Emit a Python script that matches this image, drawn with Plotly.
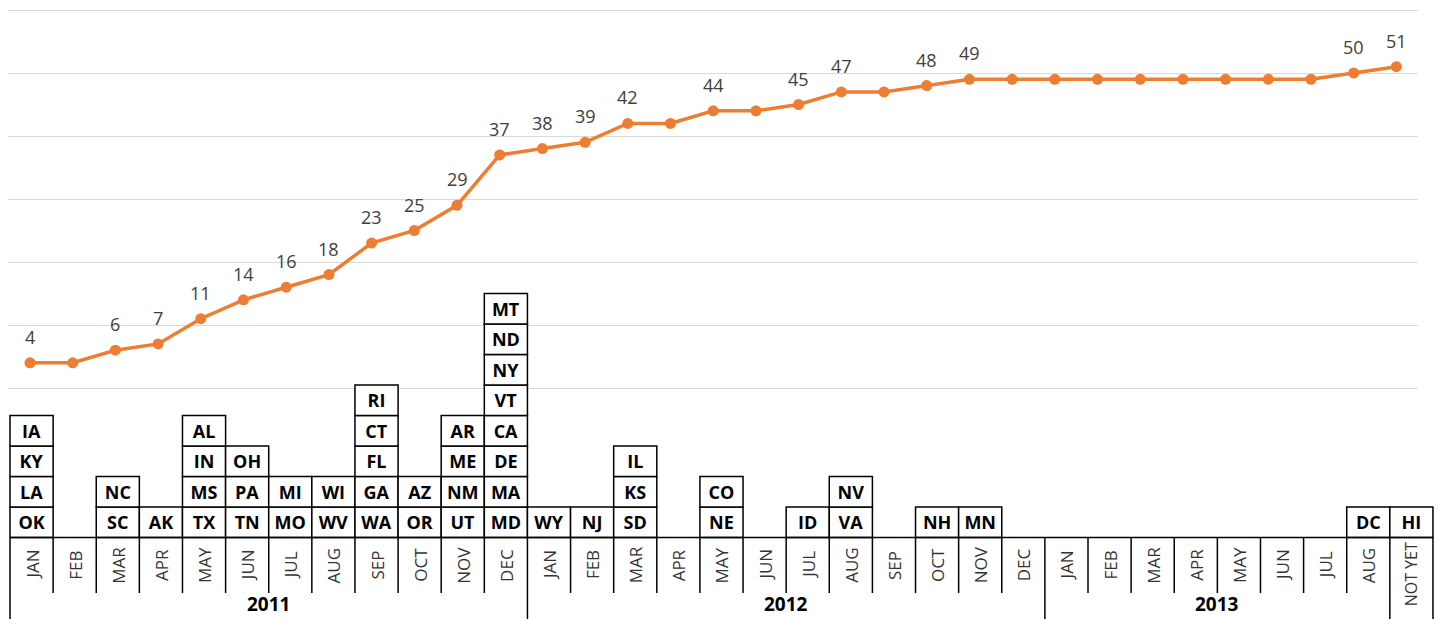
import plotly.graph_objects as go

# ---------------- data ----------------
month_labels = ["JAN", "FEB", "MAR", "APR", "MAY", "JUN", "JUL", "AUG", "SEP", "OCT", "NOV", "DEC",
                "JAN", "FEB", "MAR", "APR", "MAY", "JUN", "JUL", "AUG", "SEP", "OCT", "NOV", "DEC",
                "JAN", "FEB", "MAR", "APR", "MAY", "JUN", "JUL", "AUG",
                "NOT YET"]
year_labels = ["2011", "2012", "2013"]
year_first_col = [0, 12, 24]
year_last_col = [11, 23, 31]

cumulative_states = [4, 4, 6, 7, 11, 14, 16, 18, 23, 25, 29, 37,
                     38, 39, 42, 42, 44, 44, 45, 47, 47, 48, 49, 49,
                     49, 49, 49, 49, 49, 49, 49, 50,
                     51]

# states per column, listed bottom to top
states_by_month = [
    ["OK", "LA", "KY", "IA"], [], ["SC", "NC"], ["AK"], ["TX", "MS", "IN", "AL"],
    ["TN", "PA", "OH"], ["MO", "MI"], ["WV", "WI"], ["WA", "GA", "FL", "CT", "RI"],
    ["OR", "AZ"], ["UT", "NM", "ME", "AR"], ["MD", "MA", "DE", "CA", "VT", "NY", "ND", "MT"],
    ["WY"], ["NJ"], ["SD", "KS", "IL"], [], ["NE", "CO"], [], ["ID"], ["VA", "NV"], [],
    ["NH"], ["MN"], [],
    [], [], [], [], [], [], [], ["DC"],
    ["HI"],
]

# ---------------- build ----------------
n = len(month_labels)
cols = list(range(n))

bx, bbase, bh, btext = [], [], [], []
for i, sts in enumerate(states_by_month):
    for k, s in enumerate(sts):
        bx.append(i)
        bbase.append(k)
        bh.append(1)
        btext.append(s)

ORANGE = "#ED7D31"
W, H = 1441, 619
FONT = "Open Sans"

fig = go.Figure()

fig.add_trace(go.Scatter(
    x=cols, y=cumulative_states, mode="lines+markers",
    line=dict(color=ORANGE, width=3.5),
    marker=dict(color=ORANGE, size=11),
    xaxis="x", yaxis="y", hoverinfo="skip", cliponaxis=False,
))

fig.add_trace(go.Bar(
    x=bx, y=bh, base=bbase, text=btext, width=1,
    xaxis="x2", yaxis="y2",
    marker=dict(color="white", line=dict(color="black", width=1.5)),
    textposition="inside", insidetextanchor="middle", textangle=0,
    constraintext="none",
    textfont=dict(family=FONT, size=18, color="black", weight="bold"),
    hoverinfo="skip",
))

# layout geometry (pixels -> axis ranges)
line_left, line_right = 8, 1418
dom_w = line_right - line_left
px_per_col_line = 42.7
first_pt_px = 30
a1 = -(first_pt_px - line_left) / px_per_col_line
b1 = a1 + dom_w / px_per_col_line

px_per_col_box = 43.12
box_left_px = 10
a2 = -0.5 - box_left_px / px_per_col_box
b2 = a2 + W / px_per_col_box

zero_px, px_per_unit = 388, 6.3
y1_top = zero_px / px_per_unit
y1_bot = y1_top - H / px_per_unit

base_px, row_px = 537.5, 30.5
y2_top = base_px / row_px
y2_bot = y2_top - H / row_px

shapes = []
line_style = dict(color="black", width=1.5)
shapes.append(dict(type="line", xref="x2", yref="y2", x0=-0.5, x1=n - 0.5, y0=0, y1=0, line=line_style))
year_bounds = set(year_first_col) | {year_last_col[-1] + 1, n}
month_row_bottom = -(593 - base_px) / row_px
for k in range(n + 1):
    ybot = y2_bot if k in year_bounds else month_row_bottom
    shapes.append(dict(type="line", xref="x2", yref="y2", x0=k - 0.5, x1=k - 0.5, y0=0, y1=ybot, line=line_style))

annotations = []
# value labels above the points where the count changes
for i, v in enumerate(cumulative_states):
    if i == 0 or v != cumulative_states[i - 1]:
        annotations.append(dict(x=i, y=v, xref="x", yref="y", text=str(v), showarrow=False,
                                yshift=26, font=dict(family=FONT, size=18, color="#404040")))

month_center = -(565 - base_px) / row_px
for i, m in enumerate(month_labels):
    if i == n - 1:
        annotations.append(dict(x=i, y=-0.08, xref="x2", yref="y2", text=m, textangle=-90,
                                showarrow=False, yanchor="top",
                                font=dict(family=FONT, size=16, color="#333333")))
    else:
        annotations.append(dict(x=i, y=month_center, xref="x2", yref="y2", text=m, textangle=-90,
                                showarrow=False,
                                font=dict(family=FONT, size=17, color="#333333")))
year_y = -(618 - base_px) / row_px
for lab, f, l in zip(year_labels, year_first_col, year_last_col):
    annotations.append(dict(x=(f + l) / 2, y=year_y, xref="x2", yref="y2", text=lab,
                            showarrow=False, yanchor="bottom", borderpad=0,
                            font=dict(family=FONT, size=19, color="black", weight="bold")))

fig.update_layout(
    width=W, height=H, margin=dict(l=0, r=0, t=0, b=0),
    paper_bgcolor="white", plot_bgcolor="rgba(0,0,0,0)",
    showlegend=False, barmode="overlay",
    xaxis=dict(domain=[line_left / W, line_right / W], range=[a1, b1], anchor="y",
               showgrid=False, zeroline=False, showticklabels=False, ticks="", showline=False),
    yaxis=dict(domain=[0, 1], range=[y1_bot, y1_top], anchor="x", tickvals=[0, 10, 20, 30, 40, 50, 60],
               showgrid=True, gridcolor="#d9d9d9", gridwidth=1.3, zeroline=False,
               showticklabels=False, ticks="", showline=False),
    xaxis2=dict(domain=[0, 1], range=[a2, b2], anchor="y2", visible=False),
    yaxis2=dict(domain=[0, 1], range=[y2_bot, y2_top], anchor="x2", visible=False),
    shapes=shapes, annotations=annotations,
)

fig.write_html("out.html", config={"displayModeBar": False},
               post_script="document.body.style.margin='0';document.body.style.overflow='hidden';")
